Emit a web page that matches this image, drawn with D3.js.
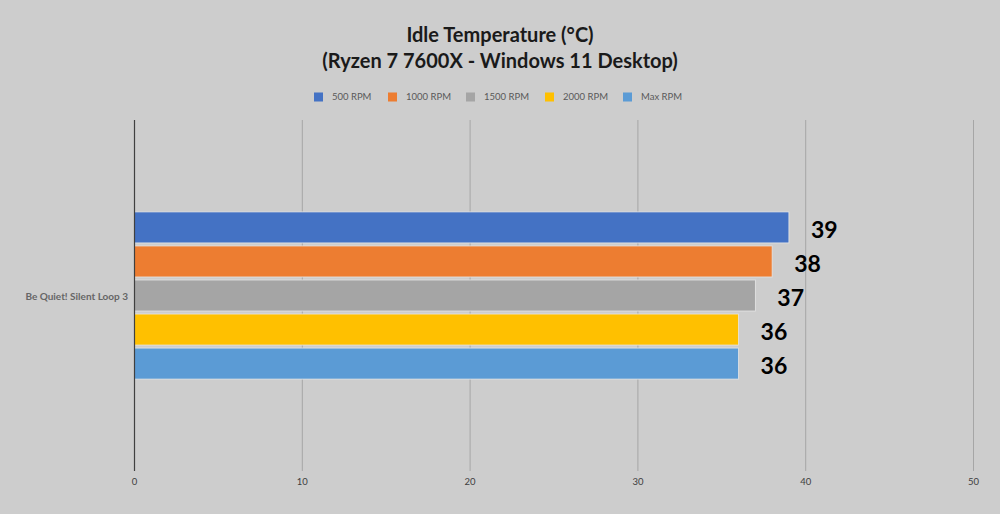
<!DOCTYPE html>
<html><head><meta charset="utf-8">
<script src="https://cdn.jsdelivr.net/npm/d3@7"></script>
<style>body{margin:0;background:#cdcdcd;}svg{display:block;}</style>
</head><body><svg id="c" width="1000" height="514"></svg>
<script>
const titleLines = ["Idle Temperature (°C)", "(Ryzen 7 7600X - Windows 11 Desktop)"];
const categories = ["Be Quiet! Silent Loop 3"];
const seriesNames = ["500 RPM", "1000 RPM", "1500 RPM", "2000 RPM", "Max RPM"];
const seriesColors = ["#4472c4", "#ed7d31", "#a5a5a5", "#ffc000", "#5b9bd5"];
const seriesValues = [[39], [38], [37], [36], [36]];
const xTicks = [0, 10, 20, 30, 40, 50];

const svg = d3.select("#c");
const font = "Lato, 'Open Sans', sans-serif";
svg.append("rect").attr("width",1000).attr("height",514).attr("fill","#cdcdcd");

const x = d3.scaleLinear().domain([0,50]).range([134.5, 973.5]);
const y = d3.scaleBand().domain(categories).range([120, 471]);
const inner = d3.scaleBand().domain(seriesNames).range([0, y.bandwidth()]).paddingInner(0.088).paddingOuter(2.7);

// gridlines
svg.append("g").selectAll("line").data(xTicks.filter(d=>d>0)).join("line")
  .attr("x1",d=>x(d)).attr("x2",d=>x(d)).attr("y1",120).attr("y2",471)
  .attr("stroke","#a6a6a6").attr("stroke-width",1);

// bars
categories.forEach((cat, ci) => {
  seriesNames.forEach((s, si) => {
    const v = seriesValues[si][ci];
    const yy = y(cat) + inner(s);
    svg.append("rect").attr("x", x(0)).attr("y", yy)
      .attr("width", x(v)-x(0)).attr("height", inner.bandwidth())
      .attr("fill", seriesColors[si]).attr("stroke","#e6e6e6").attr("stroke-width",0.8);
    svg.append("text").attr("x", x(v)+22).attr("y", yy + inner.bandwidth()/2)
      .attr("dy","0.45em").attr("font-family",font).attr("font-weight","bold")
      .attr("font-size",23).attr("fill","#000").text(v);
  });
});

// axis line at 0
svg.append("line").attr("x1",x(0)).attr("x2",x(0)).attr("y1",120).attr("y2",471)
  .attr("stroke","#404040").attr("stroke-width",1.2);

// x tick labels
svg.append("g").selectAll("text").data(xTicks).join("text")
  .attr("x",d=>x(d)).attr("y",485).attr("text-anchor","middle")
  .attr("font-family",font).attr("font-size",9.5).attr("fill","#404040").text(d=>d);

// category labels
svg.append("g").selectAll("text").data(categories).join("text")
  .attr("x",128).attr("y",d=>y(d)+y.bandwidth()/2+1).attr("dy","0.35em").attr("text-anchor","end")
  .attr("font-family",font).attr("font-size",10).attr("font-weight","bold").attr("fill","#666").text(d=>d);

// title
svg.append("g").selectAll("text").data(titleLines).join("text")
  .attr("x",500).attr("y",(d,i)=>42+i*26).attr("text-anchor","middle")
  .attr("font-family",font).attr("font-weight","bold").attr("font-size",20).attr("fill","#1a1a1a").text(d=>d);

// legend
const legX = [314, 388, 466, 545, 623];
const lg = svg.append("g");
seriesNames.forEach((s,i)=>{
  lg.append("rect").attr("x",legX[i]).attr("y",92.5).attr("width",9).attr("height",9).attr("fill",seriesColors[i]);
  lg.append("text").attr("x",legX[i]+18).attr("y",97).attr("dy","0.35em")
    .attr("font-family",font).attr("font-size",9.5).attr("fill","#595959").text(s);
});
</script></body></html>
